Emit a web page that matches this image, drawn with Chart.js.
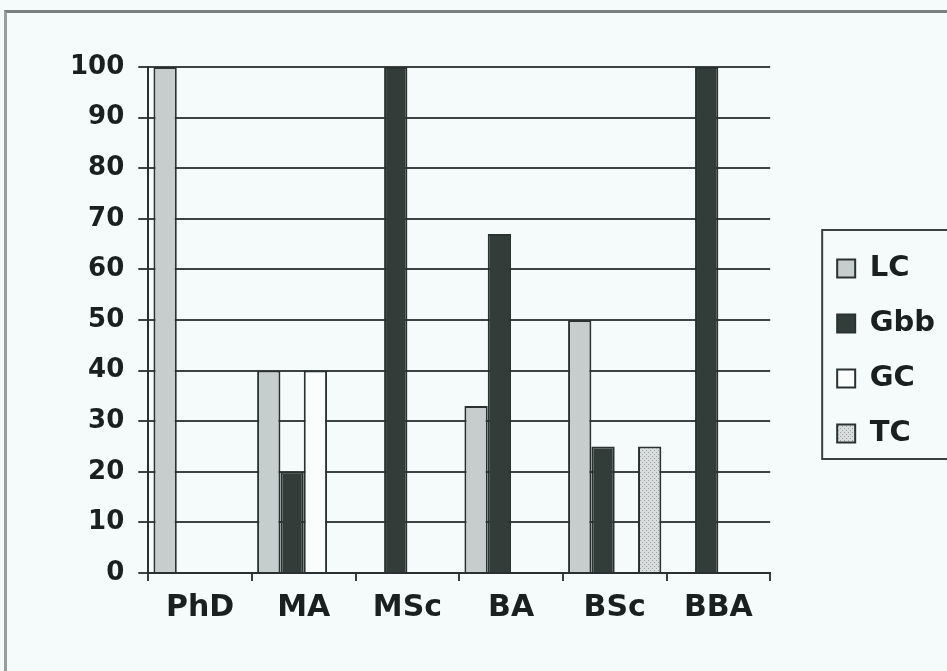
<!DOCTYPE html>
<html>
<head>
<meta charset="utf-8">
<script src="https://cdn.jsdelivr.net/npm/chart.js@4"></script>
<style>
  body { margin: 0; background: #f5fafa; }
  .page { position: relative; width: 947px; height: 671px; overflow: hidden; background: #f5fafa; }
  .cadre { position: absolute; left: 4px; top: 10px; width: 960px; height: 680px;
           border-top: 3px solid #7b7f7f; border-left: 3px solid #9a9e9e; }
  canvas { position: absolute; left: 0; top: 0; }
</style>
</head>
<body>
<div class="page">
  <div class="cadre"></div>
  <canvas id="diplomes" width="947" height="671"></canvas>
</div>
<script>
// Donnees
let categories = ['PhD', 'MA', 'MSc', 'BA', 'BSc', 'BBA'];
let valeursLC = [100, 40, 0, 33, 50, 0];
let valeursGbb = [0, 20, 100, 67, 25, 100];
let valeursGC = [0, 40, 0, 0, 0, 0];
let valeursTC = [0, 0, 0, 0, 25, 0];

let police = "'DejaVu Sans', 'Liberation Sans', Arial, sans-serif";
let contour = '#2a3230';

/* motif pointille pour TC */
function motifPoints() {
  let c = document.createElement('canvas');
  c.width = 4;
  c.height = 4;
  let ctx = c.getContext('2d');
  ctx.fillStyle = '#d9dddd';
  ctx.fillRect(0, 0, 4, 4);
  ctx.fillStyle = '#9aa0a0';
  ctx.fillRect(0, 0, 1, 1);
  ctx.fillRect(2, 2, 1, 1);
  return ctx.createPattern(c, 'repeat');
}

// cadre autour de la legende
let cadreLegende = {
  id: 'cadreLegende',
  afterDraw(chart) {
    let boxes = chart.legend.legendHitBoxes;
    if (!boxes || !boxes.length) return;
    let dernier = boxes[boxes.length - 1];
    let haut = boxes[0].top - 24;
    let bas = dernier.top + dernier.height + 11;
    let ctx = chart.ctx;
    ctx.save();
    ctx.strokeStyle = '#3a3f3f';
    ctx.lineWidth = 2;
    ctx.strokeRect(boxes[0].left - 15, haut, 200, bas - haut);
    ctx.restore();
  }
};

new Chart('diplomes', {
  type: 'bar',
  data: {
    labels: categories,
    datasets: [
      { label: 'LC', data: valeursLC, backgroundColor: '#c6cdcd' },
      { label: 'Gbb', data: valeursGbb, backgroundColor: '#323c39' },
      { label: 'GC', data: valeursGC, backgroundColor: '#fbfdfd' },
      { label: 'TC', data: valeursTC, backgroundColor: motifPoints() }
    ]
  },
  options: {
    responsive: false,
    animation: false,
    layout: { padding: { top: 67, left: 56, bottom: 36, right: 2 } },
    datasets: {
      bar: {
        categoryPercentage: 0.9,
        barPercentage: 1.0,
        borderColor: contour,
        borderWidth: 2,
        borderSkipped: 'start'
      }
    },
    scales: {
      x: {
        grid: { drawOnChartArea: false, drawTicks: true, tickLength: 8, color: '#3a3f3f', lineWidth: 2 },
        border: { color: '#2a2f2f', width: 2 },
        ticks: { color: '#1b1f1f', padding: 9, font: { family: police, size: 30, weight: 'bold' } }
      },
      y: {
        min: 0,
        max: 100,
        ticks: { stepSize: 10, color: '#1b1f1f', padding: 14, font: { family: police, size: 26, weight: 'bold' } },
        grid: { color: '#3c4342', lineWidth: 2, tickLength: 10 },
        border: { color: '#2a2f2f', width: 2 }
      },
      gap: {
        position: 'right',
        display: true,
        grid: { display: false },
        border: { display: false },
        ticks: { display: false },
        afterFit(scale) { scale.width = 41; }
      }
    },
    plugins: {
      tooltip: { enabled: false },
      legend: {
        position: 'right',
        labels: {
          boxWidth: 18,
          boxHeight: 18,
          padding: 26,
          color: '#1b1f1f',
          font: { family: police, size: 29, weight: 'bold' }
        }
      }
    }
  },
  plugins: [cadreLegende]
});
</script>
</body>
</html>
